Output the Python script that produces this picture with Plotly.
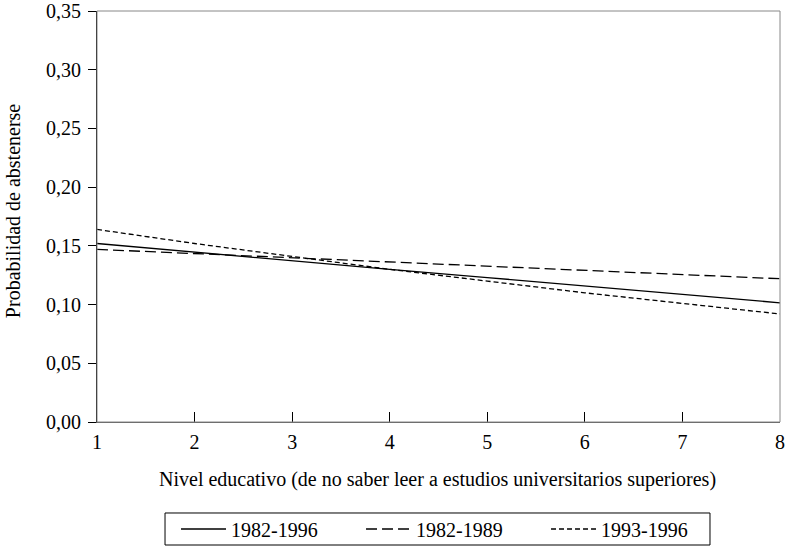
import plotly.graph_objects as go

niveles = [1, 2, 3, 4, 5, 6, 7, 8]
serie_1982_1996 = [0.152, 0.1445, 0.137, 0.130, 0.123, 0.116, 0.109, 0.1015]
serie_1982_1989 = [0.147, 0.1435, 0.140, 0.136, 0.1325, 0.129, 0.1255, 0.122]
serie_1993_1996 = [0.164, 0.152, 0.141, 0.130, 0.120, 0.110, 0.101, 0.092]
y_ticks = [0, 0.05, 0.10, 0.15, 0.20, 0.25, 0.30, 0.35]
y_labels = ["0,00", "0,05", "0,10", "0,15", "0,20", "0,25", "0,30", "0,35"]

FONT = "Liberation Serif"
FS = 20

fig = go.Figure()
fig.add_trace(go.Scatter(x=niveles, y=serie_1982_1996, mode="lines", name="1982-1996",
                         line=dict(color="black", width=1.3, dash="solid")))
fig.add_trace(go.Scatter(x=niveles, y=serie_1982_1989, mode="lines", name="1982-1989",
                         line=dict(color="black", width=1.3, dash="11px,5px")))
fig.add_trace(go.Scatter(x=niveles, y=serie_1993_1996, mode="lines", name="1993-1996",
                         line=dict(color="black", width=1.3, dash="5px,3px")))

fig.update_layout(
    width=786, height=546,
    margin=dict(l=97, r=6, t=11, b=124, autoexpand=False),
    paper_bgcolor="white", plot_bgcolor="white",
    font=dict(family=FONT, size=FS, color="black"),
    showlegend=True,
    legend=dict(orientation="h", x=0.1157, xanchor="left", y=-0.2603, yanchor="middle",
                borderwidth=0, bgcolor="rgba(0,0,0,0)", font=dict(family=FONT, size=FS),
                entrywidth=125, itemwidth=45, tracegroupgap=0),
    shapes=[
        dict(type="rect", xref="paper", yref="paper", x0=0, x1=1, y0=0, y1=1,
             line=dict(color="#888888", width=1)),
        # legend frame
        dict(type="rect", xref="paper", yref="paper", x0=0.0996, x1=0.8975, y0=-0.2993, y1=-0.2214,
             line=dict(color="black", width=1)),
    ],
    annotations=[
        dict(text="Nivel educativo (de no saber leer a estudios universitarios superiores)",
             xref="paper", yref="paper", x=0.499, y=-0.141, xanchor="center", yanchor="middle",
             showarrow=False, font=dict(family=FONT, size=FS)),
        dict(text="Probabilidad de abstenerse", xref="paper", yref="paper",
             x=-0.123, y=0.513, xanchor="center", yanchor="middle", textangle=-90,
             showarrow=False, font=dict(family=FONT, size=FS)),
    ],
)
fig.update_xaxes(range=[1, 8], tickvals=niveles, ticks="inside", ticklen=10, tickcolor="black",
                 showgrid=False, zeroline=False, showline=True, linecolor="#555555", linewidth=1,
                 automargin=False, ticklabelstandoff=2, tickfont=dict(family=FONT, size=FS))
fig.update_yaxes(range=[0, 0.35], tickvals=y_ticks, ticktext=y_labels, ticks="outside", ticklen=8,
                 tickcolor="black", showgrid=False, zeroline=False, showline=True, linecolor="black",
                 linewidth=1, automargin=False, ticklabelstandoff=3, tickfont=dict(family=FONT, size=FS))

# remove the browser's default 8px body margin so the figure fills the window exactly
fig.write_html("out.html", config={"displayModeBar": False},
               post_script="document.body.style.margin='0px';")
